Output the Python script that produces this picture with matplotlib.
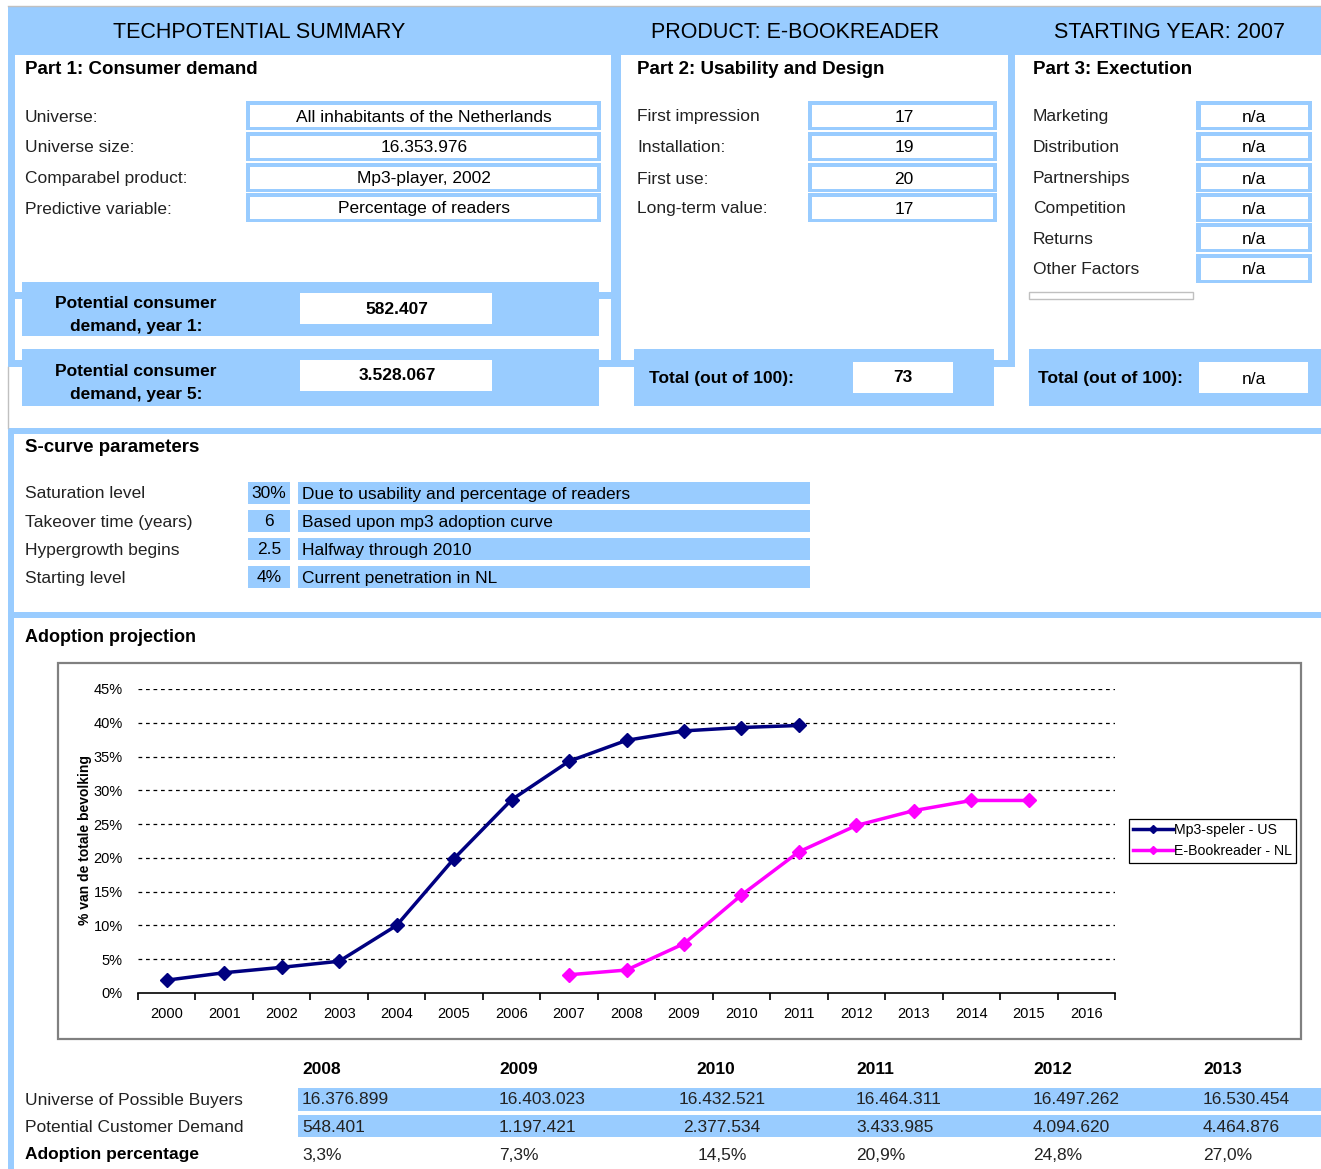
import matplotlib
matplotlib.use('Agg')
import matplotlib.pyplot as plt
from matplotlib.patches import Rectangle
from matplotlib.ticker import FuncFormatter, FixedLocator

plt.rcParams['font.family'] = ['Liberation Sans', 'DejaVu Sans']

W, H = 1321, 1169
BLUE = '#99CCFF'
NAVY = '#000080'
MAGENTA = '#FF00FF'
BODY = 12.5

# --- data -------------------------------------------------------------
header_titles = ["TECHPOTENTIAL SUMMARY", "PRODUCT: E-BOOKREADER", "STARTING YEAR: 2007"]

part1_labels = ["Universe:", "Universe size:", "Comparabel product:", "Predictive variable:"]
part1_values = ["All inhabitants of the Netherlands", "16.353.976", "Mp3-player, 2002", "Percentage of readers"]
demand_year1 = "582.407"
demand_year5 = "3.528.067"

part2_labels = ["First impression", "Installation:", "First use:", "Long-term value:"]
part2_values = ["17", "19", "20", "17"]
part2_total = "73"

part3_labels = ["Marketing", "Distribution", "Partnerships", "Competition", "Returns", "Other Factors"]
part3_values = ["n/a", "n/a", "n/a", "n/a", "n/a", "n/a"]
part3_total = "n/a"

scurve_labels = ["Saturation level", "Takeover time (years)", "Hypergrowth begins", "Starting level"]
scurve_values = ["30%", "6", "2.5", "4%"]
scurve_notes = ["Due to usability and percentage of readers", "Based upon mp3 adoption curve",
                "Halfway through 2010", "Current penetration in NL"]

years = [str(y) for y in range(2000, 2017)]
mp3_years = [str(y) for y in range(2000, 2012)]
mp3_pct = [1.9, 3.0, 3.8, 4.7, 10.0, 19.9, 28.6, 34.3, 37.4, 38.8, 39.3, 39.6]
ebook_years = [str(y) for y in range(2007, 2016)]
ebook_pct = [2.7, 3.4, 7.3, 14.5, 20.9, 24.8, 27.0, 28.5, 28.5]

table_years = ["2008", "2009", "2010", "2011", "2012", "2013"]
table_rows = ["Universe of Possible Buyers", "Potential Customer Demand", "Adoption percentage"]
universe_buyers = ["16.376.899", "16.403.023", "16.432.521", "16.464.311", "16.497.262", "16.530.454"]
customer_demand = ["548.401", "1.197.421", "2.377.534", "3.433.985", "4.094.620", "4.464.876"]
adoption_pct = ["3,3%", "7,3%", "14,5%", "20,9%", "24,8%", "27,0%"]

# --- canvas -----------------------------------------------------------
fig = plt.figure(figsize=(W / 100, H / 100), dpi=100)
bg = fig.add_axes([0, 0, 1, 1])
bg.set_xlim(0, W)
bg.set_ylim(H, 0)
bg.axis('off')


def box(x0, y0, x1, y1, fc=BLUE, ec='none', lw=0, z=1):
    bg.add_patch(Rectangle((x0, y0), x1 - x0, y1 - y0, facecolor=fc, edgecolor=ec, linewidth=lw, zorder=z))


def txt(x, y, s, size=BODY, bold=False, ha='left', color='black'):
    bg.text(x, y + 1, s, fontsize=size, fontweight='bold' if bold else 'normal',
            ha=ha, va='center', color=color, zorder=5)


GREY_TXT = '#222222'

# top frame
bg.plot([8, W], [6, 6], color='#c0c0c0', lw=1)
box(8, 7, W, 55)
box(8, 55, 15, 367)
box(611, 55, 621, 367)
box(1008, 55, 1015, 367)
box(8, 360, 1015, 367)
box(8, 292, 611, 299)

for x, s in zip([259, 795, 1170], header_titles):
    txt(x, 31, s, size=15.5, ha='center')

txt(25, 69, "Part 1: Consumer demand", size=13.5, bold=True)
txt(637, 69, "Part 2: Usability and Design", size=13.5, bold=True)
txt(1033, 69, "Part 3: Exectution", size=13.5, bold=True)

row_y = [116, 147, 178, 208, 238, 269]

for i, (lab, val) in enumerate(zip(part1_labels, part1_values)):
    y = row_y[i]
    txt(25, y, lab, color=GREY_TXT)
    box(246, y - 15, 601, y + 14)
    box(250, y - 11, 597, y + 11, fc='white')
    txt(424, y, val, ha='center')

for i, (lab, val) in enumerate(zip(part2_labels, part2_values)):
    y = row_y[i]
    txt(637, y, lab, color=GREY_TXT)
    box(808, y - 15, 997, y + 14)
    box(812, y - 11, 993, y + 11, fc='white')
    txt(904, y, val, ha='center')

for i, (lab, val) in enumerate(zip(part3_labels, part3_values)):
    y = row_y[i]
    txt(1033, y, lab, color=GREY_TXT)
    box(1196, y - 15, 1312, y + 14)
    box(1201, y - 11, 1308, y + 11, fc='white')
    txt(1254, y, val, ha='center')

box(1029, 292, 1193, 299, fc='white', ec='#c0c0c0', lw=1)

# demand bands
for (y0, y1), val, yr in [((282, 336), demand_year1, "1"), ((349, 406), demand_year5, "5")]:
    box(22, y0, 599, y1)
    box(300, y0 + 11, 492, y0 + 42, fc='white')
    txt(397, y0 + 26, val, bold=True, ha='center')
    txt(136, y0 + 21, "Potential consumer", bold=True, ha='center')
    txt(136, y0 + 44, "demand, year %s:" % yr, bold=True, ha='center')

box(634, 349, 994, 406)
txt(649, 377, "Total (out of 100):", bold=True)
box(853, 362, 953, 393, fc='white')
txt(903, 377, part2_total, bold=True, ha='center')

box(1029, 349, W, 406)
txt(1038, 378, "Total (out of 100):", bold=True)
box(1199, 362, 1308, 393, fc='white')
txt(1254, 378, part3_total, ha='center')

# S-curve section
bg.plot([8, 8], [367, 428], color='#c0c0c0', lw=1)
box(8, 428, 14, H)
box(8, 428, W, 434)
box(8, 612, W, 618)
txt(25, 447, "S-curve parameters", size=13.5, bold=True)
for i, (lab, val, note) in enumerate(zip(scurve_labels, scurve_values, scurve_notes)):
    y = 493 + 28 * i
    txt(25, y, lab, color=GREY_TXT)
    box(248, y - 11, 290, y + 11)
    txt(269, y, val, ha='center')
    box(298, y - 11, 810, y + 11)
    txt(302, y, note)

txt(25, 636, "Adoption projection", size=13, bold=True)

# chart frame
box(58, 663, 1301, 1039, fc='white', ec='#808080', lw=1.6, z=0.5)

# --- chart ------------------------------------------------------------
ax = fig.add_axes([138 / W, (H - 993) / H, (1115 - 138) / W, (993 - 689) / H])
ax.patch.set_alpha(0)
idx = {y: i for i, y in enumerate(years)}
ax.plot([idx[y] for y in mp3_years], [v / 100 for v in mp3_pct], color=NAVY, lw=2.5,
        marker='D', markersize=7.5, label="Mp3-speler - US", zorder=3)
ax.plot([idx[y] for y in ebook_years], [v / 100 for v in ebook_pct], color=MAGENTA, lw=2.5,
        marker='D', markersize=7.5, label="E-Bookreader - NL", zorder=3)

ax.set_xlim(-0.5, len(years) - 0.5)
ax.set_ylim(0, 0.45)
for g in [0.05 * k for k in range(1, 10)]:
    ax.axhline(g, color='black', lw=0.9, dashes=(3, 3), zorder=1)
for s in ['top', 'right', 'left']:
    ax.spines[s].set_visible(False)
ax.spines['bottom'].set_linewidth(1.2)
ax.set_yticks([0.05 * k for k in range(10)])
ax.yaxis.set_major_formatter(FuncFormatter(lambda v, p: "%d%%" % round(v * 100)))
ax.tick_params(axis='y', length=0, pad=11, labelsize=10.5)
ax.set_xticks(range(len(years)))
ax.set_xticklabels(years)
ax.tick_params(axis='x', which='major', length=0, pad=10, labelsize=10.5)
ax.xaxis.set_minor_locator(FixedLocator([i - 0.5 for i in range(len(years) + 1)]))
ax.tick_params(axis='x', which='minor', length=5, width=1.2, direction='out')

fig.text(85 / W, 1 - 840 / H, "% van de totale bevolking", rotation=90, fontsize=10,
         fontweight='bold', ha='center', va='center')

leg = fig.legend(loc='upper left', bbox_to_anchor=(1129 / W, 1 - 819 / H), borderaxespad=0,
                 fontsize=10.2, fancybox=False, edgecolor='black', framealpha=1,
                 handlelength=2.8, handletextpad=0.05, borderpad=0.3, labelspacing=0.5,
                 markerscale=0.6)
leg.get_frame().set_linewidth(0.9)

# --- bottom table -----------------------------------------------------
col_x = [302, 499, 722, 856, 1033, 1203]
col_ha = ['left', 'left', 'center', 'left', 'left', 'left']
box(298, 1088, W, 1111)
box(298, 1115, W, 1137)
txt(25, 1099, table_rows[0], color=GREY_TXT)
txt(25, 1126, table_rows[1], color=GREY_TXT)
txt(25, 1154, table_rows[2], bold=True)
for i in range(len(table_years)):
    hx = col_x[i] if col_ha[i] == 'left' else 716
    txt(hx, 1069, table_years[i], bold=True, ha=col_ha[i])
    txt(col_x[i], 1099, universe_buyers[i], ha=col_ha[i], color=GREY_TXT)
    txt(col_x[i], 1126, customer_demand[i], ha=col_ha[i], color=GREY_TXT)
    txt(col_x[i], 1154, adoption_pct[i], ha=col_ha[i], color=GREY_TXT)

fig.savefig("out.png", dpi=100)
